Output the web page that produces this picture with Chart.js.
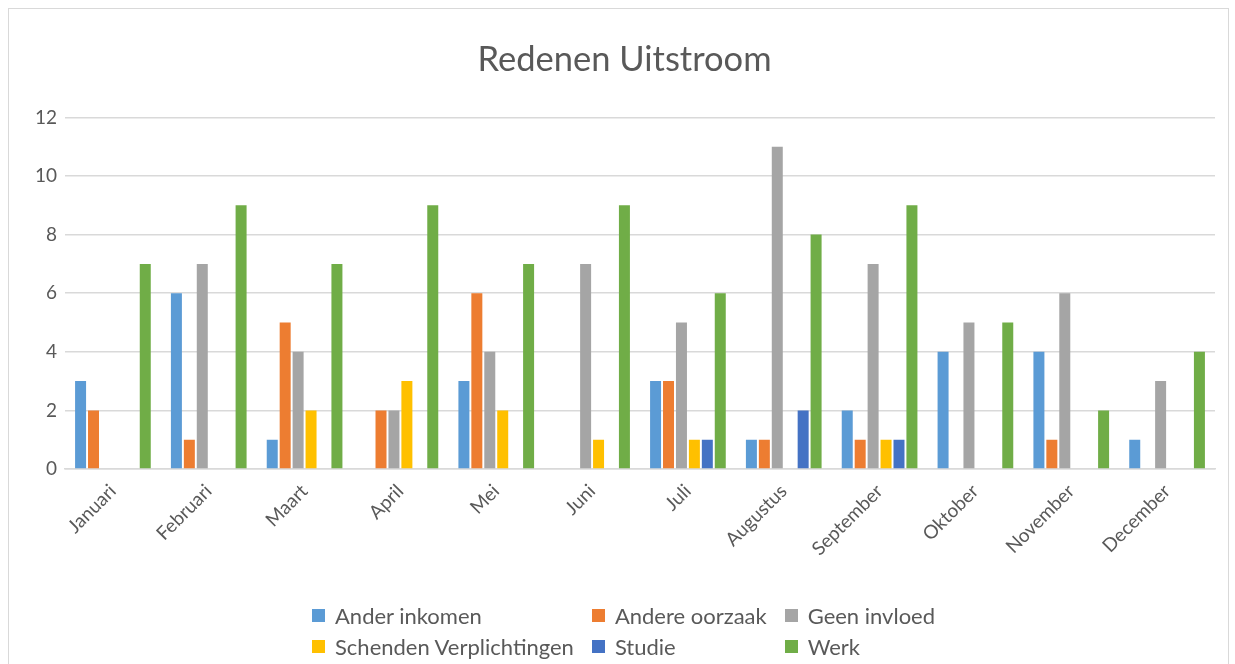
<!DOCTYPE html>
<html>
<head>
<meta charset="utf-8">
<script src="https://cdn.jsdelivr.net/npm/chart.js@4"></script>
<style>
  body { margin: 0; background: #fff; font-family: Lato, "Open Sans", sans-serif; }
  #wrap { position: relative; width: 1235px; height: 664px; overflow: hidden; }
  #frame { position: absolute; left: 8px; top: 8px; width: 1219px; height: 680px; border: 1px solid #d9d9d9; }
  #legend { position: absolute; top: 602px; left: 312px; display: grid;
            grid-template-columns: auto auto auto; column-gap: 18px; row-gap: 4px;
            font-size: 22px; line-height: 27px; color: #595959; }
  #legend span.it { display: flex; align-items: center; white-space: nowrap; }
  #legend i { display: inline-block; width: 13px; height: 13px; margin-right: 10px; }
</style>
</head>
<body>
<div id="wrap">
  <div id="frame"></div>
  <canvas id="myChart" width="1235" height="664"></canvas>
  <div id="legend"></div>
</div>
<script>
const maanden = ['Januari', 'Februari', 'Maart', 'April', 'Mei', 'Juni', 'Juli',
                 'Augustus', 'September', 'Oktober', 'November', 'December'];

const anderInkomen   = [3, 6, 1, null, 3, null, 3, 1, 2, 4, 4, 1];
const andereOorzaak  = [2, 1, 5, 2, 6, null, 3, 1, 1, null, 1, null];
const geenInvloed    = [null, 7, 4, 2, 4, 7, 5, 11, 7, 5, 6, 3];
const schenden       = [null, null, 2, 3, 2, 1, 1, null, 1, null, null, null];
const studie         = [null, null, null, null, null, null, 1, 2, 1, null, null, null];
const werk           = [7, 9, 7, 9, 7, 9, 6, 8, 9, 5, 2, 4];

const reeksen = ['Ander inkomen', 'Andere oorzaak', 'Geen invloed',
                 'Schenden Verplichtingen', 'Studie', 'Werk'];
const kleuren = ['#5b9bd5', '#ed7d31', '#a5a5a5', '#ffc000', '#4472c4', '#70ad47'];
const waarden = [anderInkomen, andereOorzaak, geenInvloed, schenden, studie, werk];

const grijs = '#595959';

const ctx = document.getElementById('myChart');

const chart = new Chart(ctx, {
  type: 'bar',
  data: {
    labels: maanden,
    datasets: reeksen.map((naam, i) => ({
      label: naam,
      data: waarden[i],
      backgroundColor: kleuren[i],
      categoryPercentage: 0.81,
      barPercentage: 0.85
    }))
  },
  options: {
    responsive: false,
    animation: false,
    // left padding keeps the title centred on the frame
    layout: { padding: { left: 34, right: 20, top: 0, bottom: 0 } },
    plugins: {
      legend: { display: false },
      tooltip: { enabled: false },
      title: {
        display: true,
        text: 'Redenen Uitstroom',
        color: grijs,
        font: { family: 'Lato', size: 34.5, weight: 'normal' },
        padding: { top: 39, bottom: 37 }
      }
    },
    scales: {
      x: {
        grid: { display: false },
        border: { color: '#d9d9d9', width: 1.5 },
        ticks: {
          color: grijs,
          font: { family: 'Lato', size: 19 },
          minRotation: 45,
          maxRotation: 45,
          autoSkip: false
        },
        afterFit: s => { s.height = 195; }
      },
      y: {
        min: 0,
        max: 12,
        border: { display: false },
        grid: { color: '#d9d9d9', lineWidth: 1.5, drawTicks: false },
        ticks: {
          stepSize: 2,
          color: grijs,
          padding: 8,
          font: { family: 'Lato', size: 19 }
        },
        afterFit: s => { s.width = 31; }
      }
    }
  }
});

const leg = document.getElementById('legend');
reeksen.forEach((naam, i) => {
  const el = document.createElement('span');
  el.className = 'it';
  el.innerHTML = '<i style="background:' + kleuren[i] + '"></i>' + naam;
  leg.appendChild(el);
});
</script>
</body>
</html>
